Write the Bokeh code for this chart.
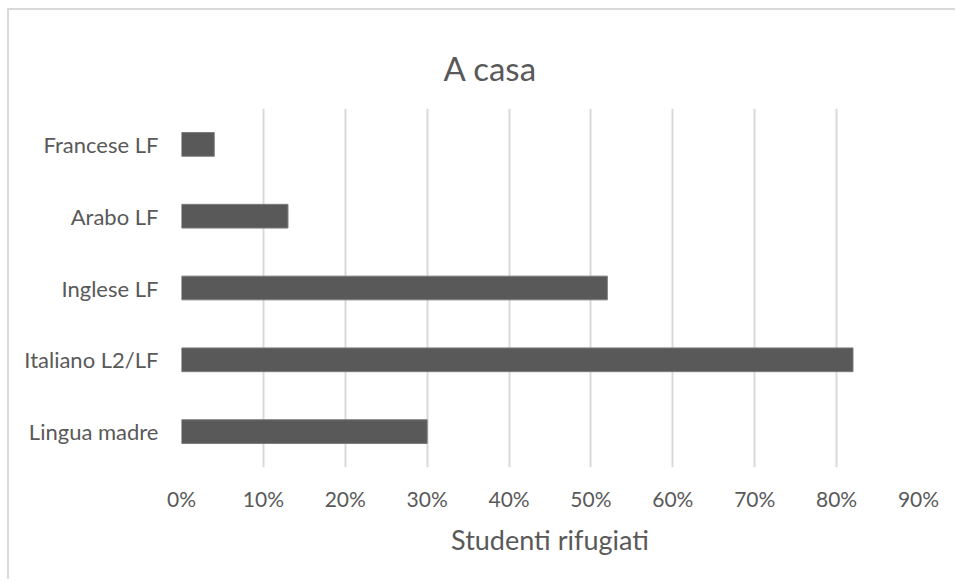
from bokeh.plotting import figure
from bokeh.models import Range1d, FixedTicker, NumeralTickFormatter, Title
from bokeh.embed import file_html
from bokeh.resources import INLINE

# Share of refugee students using each language at home
categories = ["Lingua madre", "Italiano L2/LF", "Inglese LF", "Arabo LF", "Francese LF"]
shares = [0.30, 0.82, 0.52, 0.13, 0.04]
x_ticks = [0.0, 0.1, 0.2, 0.3, 0.4, 0.5, 0.6, 0.7, 0.8, 0.9]

TEXT = "#595959"
FONT = "Lato"

p = figure(
    width=948, height=571,
    y_range=categories,
    x_range=Range1d(0, 0.9),
    output_backend="svg",
    toolbar_location=None,
    min_border_left=172, min_border_right=39,
    min_border_top=98, min_border_bottom=114,
)
p.margin = (8, 0, 0, 7)
p.styles = {"border-top": "2px solid #d9d9d9", "border-left": "2px solid #d9d9d9"}

p.hbar(y=categories, right=shares, left=0, height=0.33,
       fill_color="#595959", line_color="#7a7a7a", line_width=1)

# title placed over the middle of the whole chart rather than the plotting frame
p.add_layout(Title(text="A casa", align="left", vertical_align="top",
                   text_font=FONT, text_font_size="33px", text_font_style="normal",
                   text_color=TEXT, standoff=37, offset=262), "above")

p.outline_line_color = None
p.background_fill_color = "white"
p.border_fill_color = "white"

p.xgrid.grid_line_color = "#d9d9d9"
p.xgrid.grid_line_width = 2
p.ygrid.grid_line_color = None

p.xaxis.ticker = FixedTicker(ticks=x_ticks)
p.xaxis.formatter = NumeralTickFormatter(format="0%")
p.xaxis.axis_label = "Studenti rifugiati"
p.xaxis.axis_label_text_font = FONT
p.xaxis.axis_label_text_font_size = "27px"
p.xaxis.axis_label_text_font_style = "normal"
p.xaxis.axis_label_text_color = TEXT
p.xaxis.axis_label_standoff = 9

for ax in (p.xaxis[0], p.yaxis[0]):
    ax.axis_line_color = None
    ax.major_tick_line_color = None
    ax.minor_tick_line_color = None
    ax.major_label_text_font = FONT
    ax.major_label_text_color = TEXT

p.xaxis.major_label_text_font_size = "21px"
p.yaxis.major_label_text_font_size = "22px"
p.xaxis.major_label_standoff = 12
p.yaxis.major_label_standoff = 17

open("out.html", "w").write(file_html(p, INLINE))
